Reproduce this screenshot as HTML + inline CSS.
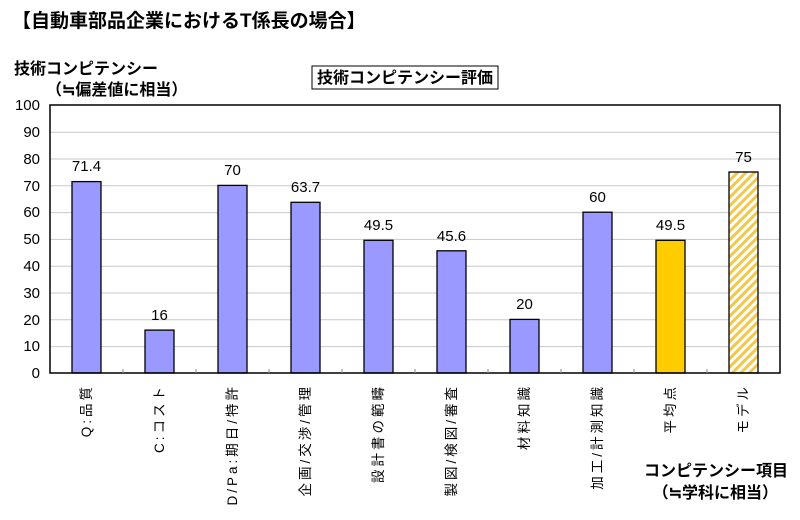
<!DOCTYPE html>
<html><head><meta charset="utf-8"><style>
body{margin:0;background:#fff;}
svg{display:block;font-family:"Liberation Sans","Noto Sans CJK JP",sans-serif;}
</style></head><body>
<svg width="800" height="520" viewBox="0 0 800 520">
<defs>
<pattern id="h" patternUnits="userSpaceOnUse" width="6" height="6" patternTransform="rotate(45)">
<rect width="6" height="6" fill="#fff"/><rect width="3" height="6" fill="#f2c84b"/>
</pattern>
</defs>
<text x="12" y="27" font-size="19" font-weight="bold">【自動車部品企業におけるT係長の場合】</text>
<text x="14" y="74" font-size="16" font-weight="bold">技術コンピテンシー</text>
<text x="46" y="95" font-size="16" font-weight="bold">（≒偏差値に相当）</text>
<rect x="312" y="66" width="186" height="23" fill="#fff" stroke="#000" stroke-width="1"/>
<text x="405" y="83" font-size="16" font-weight="bold" text-anchor="middle">技術コンピテンシー評価</text>
<g stroke="#c8c8c8" stroke-width="1">
<line x1="50" x2="780" y1="132.2" y2="132.2"/><line x1="50" x2="780" y1="159" y2="159"/>
<line x1="50" x2="780" y1="185.8" y2="185.8"/><line x1="50" x2="780" y1="212.6" y2="212.6"/>
<line x1="50" x2="780" y1="239.4" y2="239.4"/><line x1="50" x2="780" y1="266.2" y2="266.2"/>
<line x1="50" x2="780" y1="293" y2="293"/><line x1="50" x2="780" y1="319.8" y2="319.8"/>
<line x1="50" x2="780" y1="346.6" y2="346.6"/>
</g>
<g font-size="15" text-anchor="end">
<text x="40" y="110">100</text><text x="40" y="137">90</text><text x="40" y="164">80</text>
<text x="40" y="191">70</text><text x="40" y="217">60</text><text x="40" y="244">50</text>
<text x="40" y="271">40</text><text x="40" y="298">30</text><text x="40" y="325">20</text>
<text x="40" y="351">10</text><text x="40" y="378">0</text>
</g>
<g stroke="#000" stroke-width="1.3">
<rect x="72" y="181.6" width="29" height="191.4" fill="#9999ff"/>
<rect x="145" y="330.1" width="29" height="42.9" fill="#9999ff"/>
<rect x="218" y="185.4" width="29" height="187.6" fill="#9999ff"/>
<rect x="291" y="202.3" width="29" height="170.7" fill="#9999ff"/>
<rect x="364" y="240.3" width="29" height="132.7" fill="#9999ff"/>
<rect x="437" y="250.8" width="29" height="122.2" fill="#9999ff"/>
<rect x="510" y="319.4" width="29" height="53.6" fill="#9999ff"/>
<rect x="583" y="212.2" width="29" height="160.8" fill="#9999ff"/>
<rect x="656" y="240.3" width="29" height="132.7" fill="#ffcc00"/>
<rect x="729" y="172" width="29" height="201" fill="url(#h)"/>
</g>
<rect x="50" y="105" width="730" height="268" fill="none" stroke="#000" stroke-width="1.5"/>
<g stroke="#888" stroke-width="1">
<line x1="123" x2="123" y1="373" y2="369"/><line x1="196" x2="196" y1="373" y2="369"/>
<line x1="269" x2="269" y1="373" y2="369"/><line x1="342" x2="342" y1="373" y2="369"/>
<line x1="415" x2="415" y1="373" y2="369"/><line x1="488" x2="488" y1="373" y2="369"/>
<line x1="561" x2="561" y1="373" y2="369"/><line x1="634" x2="634" y1="373" y2="369"/>
<line x1="707" x2="707" y1="373" y2="369"/>
</g>
<g font-size="15" text-anchor="middle">
<text x="86.5" y="171">71.4</text><text x="159.5" y="320">16</text><text x="232.5" y="175">70</text>
<text x="305.5" y="192">63.7</text><text x="378.5" y="230">49.5</text><text x="451.5" y="241">45.6</text>
<text x="524.5" y="309">20</text><text x="597.5" y="202">60</text><text x="670.5" y="230">49.5</text>
<text x="743.5" y="162">75</text>
</g>
<g font-size="13.5" text-anchor="end" letter-spacing="3">
<text transform="translate(91,384) rotate(-90)">Q:品質</text>
<text transform="translate(164,384) rotate(-90)">C:コスト</text>
<text transform="translate(237,384) rotate(-90)">D/Pa:期日/特許</text>
<text transform="translate(310,384) rotate(-90)">企画/交渉/管理</text>
<text transform="translate(383,384) rotate(-90)">設計書の範疇</text>
<text transform="translate(456,384) rotate(-90)">製図/検図/審査</text>
<text transform="translate(529,384) rotate(-90)">材料知識</text>
<text transform="translate(602,384) rotate(-90)">加工/計測知識</text>
<text transform="translate(675,384) rotate(-90)">平均点</text>
<text transform="translate(748,384) rotate(-90)">モデル</text>
</g>
<text x="788" y="476" font-size="16" font-weight="bold" text-anchor="end">コンピテンシー項目</text>
<text x="778" y="498" font-size="16" font-weight="bold" text-anchor="end">（≒学科に相当）</text>
</svg>
</body></html>
